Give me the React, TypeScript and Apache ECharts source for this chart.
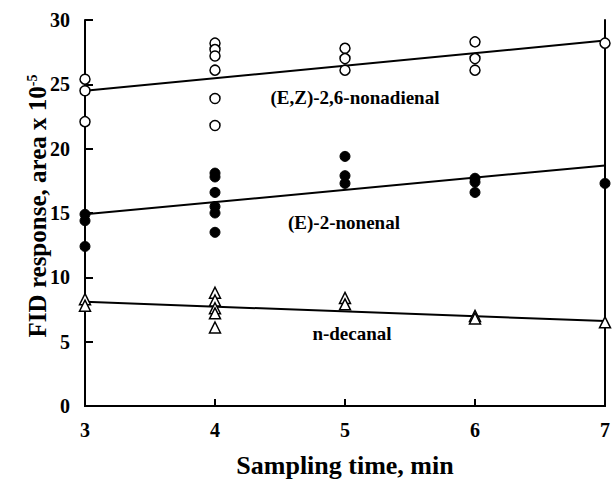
import React, { useEffect, useRef } from "react";
import * as echarts from "echarts";

// Sampling times (min) and FID responses (area x 10^-5)
const nonadienalX = [3, 3, 3, 4, 4, 4, 4, 4, 4, 5, 5, 5, 6, 6, 6, 7];
const nonadienalY = [25.4, 24.5, 22.1, 28.2, 27.7, 27.2, 26.1, 23.9, 21.8, 27.8, 27.0, 26.1, 28.3, 27.0, 26.1, 28.2];
const nonenalX = [3, 3, 3, 4, 4, 4, 4, 4, 4, 5, 5, 5, 6, 6, 6, 7];
const nonenalY = [14.9, 14.4, 12.4, 18.1, 17.8, 16.6, 15.5, 15.0, 13.5, 19.4, 17.9, 17.3, 17.7, 17.4, 16.6, 17.3];
const decanalX = [3, 3, 4, 4, 4, 4, 4, 5, 5, 6, 6, 7];
const decanalY = [8.3, 7.8, 8.8, 8.2, 7.6, 7.2, 6.1, 8.4, 7.9, 7.0, 6.8, 6.5];

// Fitted lines (endpoints)
const fitX = [3, 7];
const nonadienalFit = [24.5, 28.4];
const nonenalFit = [14.9, 18.7];
const decanalFit = [8.1, 6.6];

const xTicks = { min: 3, max: 7, interval: 1 };
const yTicks = { min: 0, max: 30, interval: 5 };

const seriesLabels = ["(E,Z)-2,6-nonadienal", "(E)-2-nonenal", "n-decanal"];

const FONT = "Liberation Serif";

function pairs(xs: number[], ys: number[]) {
  return xs.map((x, i) => [x, ys[i]]);
}

export default function App() {
  const ref = useRef<HTMLDivElement>(null);

  useEffect(() => {
    document.body.style.margin = "0";
    if (!ref.current) return;
    const chart = echarts.init(ref.current, undefined, { renderer: "svg" });
    const labelStyle = { fontFamily: FONT, fontWeight: "bold", fontSize: 19, fill: "#000" };
    const lineStyle = { color: "#000", width: 2 };
    const frameAxisCommon = {
      type: "value",
      axisLine: { show: true, lineStyle: { color: "#000", width: 2 } },
      axisTick: { show: false },
      axisLabel: { show: false },
      splitLine: { show: false },
    };
    chart.setOption({
      animation: false,
      backgroundColor: "#fff",
      textStyle: { fontFamily: FONT },
      grid: {
        left: 85,
        top: 20,
        right: 7,
        bottom: 74,
      },
      xAxis: [
        {
          type: "value",
          min: xTicks.min,
          max: xTicks.max,
          interval: xTicks.interval,
          name: "Sampling time, min",
          nameLocation: "middle",
          nameGap: 46,
          nameTextStyle: { fontFamily: FONT, fontWeight: "bold", fontSize: 26, color: "#000" },
          axisLine: { lineStyle: { color: "#000", width: 2 } },
          axisTick: { inside: true, length: 7, lineStyle: { color: "#000", width: 2 } },
          axisLabel: { margin: 14, fontFamily: FONT, fontWeight: "bold", fontSize: 20, color: "#000" },
          splitLine: { show: false },
        },
        { ...frameAxisCommon, position: "top", min: xTicks.min, max: xTicks.max },
      ],
      yAxis: [
        {
          type: "value",
          min: yTicks.min,
          max: yTicks.max,
          interval: yTicks.interval,
          name: "{a|FID response, area x 10}{b|-5}",
          nameLocation: "middle",
          nameRotate: 90,
          nameGap: 35,
          nameMoveOverlap: false,
          nameTextStyle: {
            color: "#000",
            padding: [0, 0, 0, 14],
            rich: {
              a: { fontFamily: FONT, fontWeight: "bold", fontSize: 25, color: "#000" },
              b: { fontFamily: FONT, fontWeight: "bold", fontSize: 14, color: "#000", verticalAlign: "top" },
            },
          },
          axisLine: { lineStyle: { color: "#000", width: 2 } },
          axisTick: { inside: true, length: 8, lineStyle: { color: "#000", width: 2 } },
          axisLabel: { margin: 15, fontFamily: FONT, fontWeight: "bold", fontSize: 20, color: "#000" },
          splitLine: { show: false },
        },
        { ...frameAxisCommon, position: "right", min: yTicks.min, max: yTicks.max },
      ],
      series: [
        { type: "line", data: pairs(fitX, nonadienalFit), symbol: "none", lineStyle, z: 1 },
        { type: "line", data: pairs(fitX, nonenalFit), symbol: "none", lineStyle, z: 1 },
        { type: "line", data: pairs(fitX, decanalFit), symbol: "none", lineStyle, z: 1 },
        {
          type: "scatter",
          data: pairs(nonadienalX, nonadienalY),
          symbol: "circle",
          symbolSize: 10,
          clip: false,
          itemStyle: { color: "#fff", borderColor: "#000", borderWidth: 1.5, opacity: 1 },
          z: 3,
        },
        {
          type: "scatter",
          data: pairs(nonenalX, nonenalY),
          symbol: "circle",
          symbolSize: 10,
          clip: false,
          itemStyle: { color: "#000", borderColor: "#000", borderWidth: 1, opacity: 1 },
          z: 3,
        },
        {
          type: "scatter",
          data: pairs(decanalX, decanalY),
          symbol: "triangle",
          symbolSize: 11,
          clip: false,
          itemStyle: { color: "#fff", borderColor: "#000", borderWidth: 1.5, opacity: 1 },
          z: 3,
        },
      ],
      graphic: [
        { type: "text", x: 355, y: 97, style: { ...labelStyle, text: seriesLabels[0], align: "center", verticalAlign: "middle" } },
        { type: "text", x: 344, y: 222, style: { ...labelStyle, text: seriesLabels[1], align: "center", verticalAlign: "middle" } },
        { type: "text", x: 352, y: 333, style: { ...labelStyle, text: seriesLabels[2], align: "center", verticalAlign: "middle" } },
      ],
    });
    return () => chart.dispose();
  }, []);

  return <div ref={ref} style={{ width: 613, height: 483 }} />;
}
